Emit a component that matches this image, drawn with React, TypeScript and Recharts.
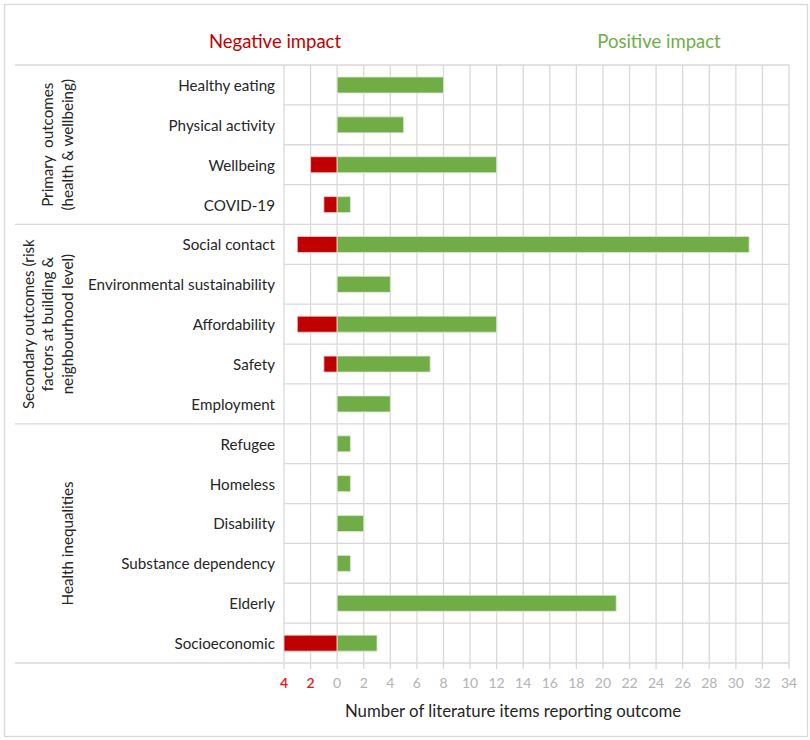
import React from 'react';
import { BarChart, Bar, XAxis, YAxis, CartesianGrid } from 'recharts';

const categories = [
  'Healthy eating',
  'Physical activity',
  'Wellbeing',
  'COVID-19',
  'Social contact',
  'Environmental sustainability',
  'Affordability',
  'Safety',
  'Employment',
  'Refugee',
  'Homeless',
  'Disability',
  'Substance dependency',
  'Elderly',
  'Socioeconomic',
];
const positiveCounts = [8, 5, 12, 1, 31, 4, 12, 7, 4, 1, 1, 2, 1, 21, 3];
const negativeCounts = [0, 0, 2, 1, 3, 0, 3, 1, 0, 0, 0, 0, 0, 0, 4];
const xTicks = [-4, -2, 0, 2, 4, 6, 8, 10, 12, 14, 16, 18, 20, 22, 24, 26, 28, 30, 32, 34];
const groups = [
  { lines: ['Primary  outcomes', '(health & wellbeing)'], start: 0, end: 4 },
  { lines: ['Secondary outcomes (risk', 'factors at building &', 'neighbourhood level)'], start: 4, end: 9 },
  { lines: ['Health inequalities'], start: 9, end: 15 },
];

const W = 810;
const H = 740;
const PLOT_LEFT = 284;
const PLOT_RIGHT = 789;
const PLOT_TOP = 65;
const PLOT_BOTTOM = 663;
const X_AXIS_H = 30;
const ROW_H = (PLOT_BOTTOM - PLOT_TOP) / categories.length;
const FONT = 'Lato, "Open Sans", sans-serif';
const GRID = '#d9d9d9';
const GREEN = '#70ad47';
const RED = '#c00000';

const data = categories.map((name, i) => ({
  name,
  pos: positiveCounts[i],
  neg: -negativeCounts[i],
}));

const YTick = (props: any) => {
  const { x, y, payload } = props;
  return (
    <text x={x} y={y} textAnchor="end" dominantBaseline="central" fontFamily={FONT} fontSize={15.2} fill="#262626">
      {payload.value}
    </text>
  );
};

const XTick = (props: any) => {
  const { x, y, payload } = props;
  const v = payload.value as number;
  return (
    <text x={x} y={y} textAnchor="middle" dominantBaseline="hanging" fontFamily={FONT} fontSize={14}
      fill={v < 0 ? '#e8161b' : '#b3b3b3'} fontWeight={v < 0 ? 600 : 400}>
      {Math.abs(v)}
    </text>
  );
};

export default function App() {
  const boundaries: number[] = [];
  for (let i = 0; i <= categories.length; i++) boundaries.push(PLOT_TOP + i * ROW_H);
  const sepRows = [0, ...groups.map((g) => g.end)];
  const LINE_GAP = 19.5;
  const LAST_X = 67;

  return (
    <div style={{ position: 'absolute', left: 0, top: 0, width: W, height: H, background: '#fff' }}>
      <BarChart
        width={W}
        height={H}
        data={data}
        layout="vertical"
        stackOffset="sign"
        barSize={16}
        margin={{ top: PLOT_TOP, right: W - PLOT_RIGHT, left: 0, bottom: H - PLOT_BOTTOM - X_AXIS_H }}
      >
        <CartesianGrid
          stroke={GRID}
          strokeWidth={1.3}
          horizontalCoordinatesGenerator={() => boundaries}
        />
        <XAxis
          type="number"
          domain={[-4, 34]}
          ticks={xTicks}
          interval={0}
          height={X_AXIS_H}
          axisLine={false}
          tickLine={{ stroke: GRID, strokeWidth: 1.3 }}
          tickSize={6}
          tickMargin={8}
          tick={<XTick />}
        />
        <YAxis
          type="category"
          dataKey="name"
          width={PLOT_LEFT}
          axisLine={false}
          tickLine={false}
          tickSize={0}
          tickMargin={9}
          interval={0}
          tick={<YTick />}
        />
        <Bar dataKey="neg" stackId="a" fill={RED} stroke="#f3d0d0" strokeWidth={0.8} isAnimationActive={false} />
        <Bar dataKey="pos" stackId="a" fill={GREEN} stroke="#dcebd2" strokeWidth={0.8} isAnimationActive={false} />
      </BarChart>
      <svg width={W} height={H} style={{ position: 'absolute', left: 0, top: 0, pointerEvents: 'none' }}>
        <rect x={4.5} y={4.5} width={803} height={732} fill="none" stroke={GRID} strokeWidth={1.3} />
        {sepRows.map((r) => (
          <line key={r} x1={15} x2={PLOT_LEFT} y1={PLOT_TOP + r * ROW_H} y2={PLOT_TOP + r * ROW_H} stroke={GRID} strokeWidth={1.3} />
        ))}
        {groups.map((g) => {
          const cy = PLOT_TOP + ((g.start + g.end) / 2) * ROW_H;
          const n = g.lines.length;
          return g.lines.map((line, i) => {
            const cx = LAST_X - (n - 1 - i) * LINE_GAP;
            return (
              <text key={line} x={cx} y={cy} transform={`rotate(-90, ${cx}, ${cy})`} textAnchor="middle"
                dominantBaseline="central" fontFamily={FONT} fontSize={15.2} fill="#262626" style={{ whiteSpace: 'pre' }}>
                {line}
              </text>
            );
          });
        })}
        <text x={275} y={41} textAnchor="middle" dominantBaseline="central" fontFamily={FONT} fontSize={18.5} fill={RED}>
          Negative impact
        </text>
        <text x={659} y={41} textAnchor="middle" dominantBaseline="central" fontFamily={FONT} fontSize={18.5} fill={GREEN}>
          Positive impact
        </text>
        <text x={513} y={710} textAnchor="middle" dominantBaseline="central" fontFamily={FONT} fontSize={16.8} fill="#262626">
          Number of literature items reporting outcome
        </text>
      </svg>
    </div>
  );
}
